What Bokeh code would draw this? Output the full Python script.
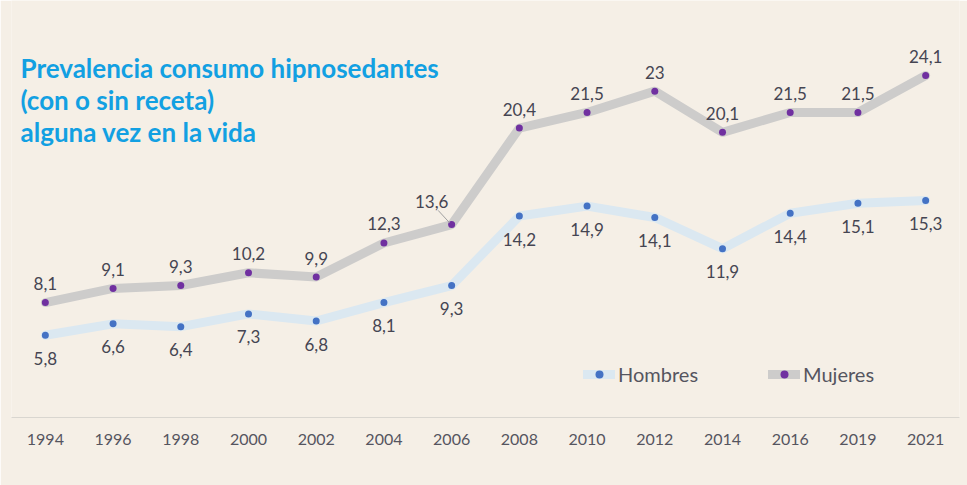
from bokeh.plotting import figure
from bokeh.models import ColumnDataSource, Range1d, FixedTicker, Label, Legend, LegendItem, Segment
from bokeh.core.properties import value
from bokeh.embed import file_html
from bokeh.resources import INLINE

years = ["1994", "1996", "1998", "2000", "2002", "2004", "2006", "2008", "2010", "2012", "2014", "2016", "2019", "2021"]
hombres = [5.8, 6.6, 6.4, 7.3, 6.8, 8.1, 9.3, 14.2, 14.9, 14.1, 11.9, 14.4, 15.1, 15.3]
mujeres = [8.1, 9.1, 9.3, 10.2, 9.9, 12.3, 13.6, 20.4, 21.5, 23.0, 20.1, 21.5, 21.5, 24.1]

def fmt(v):
    s = ("%.1f" % v).rstrip("0").rstrip(".")
    return s.replace(".", ",")

idx = list(range(len(years)))
BG = "#f5efe6"
FONT = "Lato"
TXT = "#454552"

p = figure(width=967, height=485, output_backend="svg", toolbar_location=None,
           x_range=Range1d(-0.5, len(years) - 0.5), y_range=Range1d(0, 29.39),
           min_border_left=11, min_border_right=8, min_border_top=0, min_border_bottom=68,
           background_fill_color=BG, border_fill_color=BG, outline_line_color=None)
p.grid.visible = False
p.yaxis.visible = False

ax = p.xaxis[0]
ax.ticker = FixedTicker(ticks=idx)
ax.major_label_overrides = {i: y for i, y in enumerate(years)}
ax.major_tick_line_color = None
ax.minor_tick_line_color = None
ax.axis_line_color = "#d9d6d0"
ax.axis_line_width = 1
ax.major_label_text_font = FONT
ax.major_label_text_font_size = "16px"
ax.major_label_text_color = "#55555f"
ax.major_label_standoff = 10

# label offsets (screen px)
m_xoff = [0] * len(years)
m_yoff = [-19] * len(years)
m_xoff[6] = -20
m_yoff[6] = -23
h_yoff = [23] * len(years)

src = ColumnDataSource(dict(x=idx, h=hombres, m=mujeres,
                            hl=[fmt(v) for v in hombres], ml=[fmt(v) for v in mujeres],
                            mxo=m_xoff, myo=m_yoff, hyo=h_yoff))

lh = p.line("x", "h", source=src, line_color="#dbe8f1", line_width=9, line_cap="round", line_join="round")
sh = p.scatter("x", "h", source=src, size=7, fill_color="#4472c4", line_color=None)
lm = p.line("x", "m", source=src, line_color="#cdcccb", line_width=9, line_cap="round", line_join="round")
sm = p.scatter("x", "m", source=src, size=7, fill_color="#7030a0", line_color=None)

p.text("x", "m", text="ml", source=src, x_offset="mxo", y_offset="myo",
       text_align="center", text_baseline="middle", text_font=value(FONT),
       text_font_size="17px", text_color=TXT)
p.text("x", "h", text="hl", source=src, y_offset="hyo",
       text_align="center", text_baseline="middle", text_font=value(FONT),
       text_font_size="17px", text_color=TXT)

# leader line for 2006 label
lead = ColumnDataSource(dict(x0=[6 - 0.2], y0=[mujeres[6] + 1.0], x1=[6 - 0.03], y1=[mujeres[6] + 0.12]))
p.add_glyph(lead, Segment(x0="x0", y0="y0", x1="x1", y1="y1", line_color="#a0a0a0", line_width=1))

title_lines = ["Prevalencia consumo hipnosedantes", "(con o sin receta)", "alguna vez en la vida"]
for i, t in enumerate(title_lines):
    p.add_layout(Label(x=9, y=350 - 32 * i, x_units="screen", y_units="screen", text=t,
                       text_font=FONT, text_font_style="bold", text_font_size="26px",
                       text_color="#12a0e2", text_baseline="alphabetic"))

legend = Legend(items=[LegendItem(label="Hombres", renderers=[lh, sh]),
                       LegendItem(label="Mujeres", renderers=[lm, sm])],
                orientation="horizontal", location=(572, 31),
                background_fill_alpha=0, border_line_color=None,
                label_text_font=FONT, label_text_font_size="20px", label_text_color="#55555f",
                glyph_width=32, glyph_height=20, label_standoff=3, spacing=70,
                padding=0, margin=0)
p.add_layout(legend)

open("out.html", "w").write(file_html(p, INLINE))
